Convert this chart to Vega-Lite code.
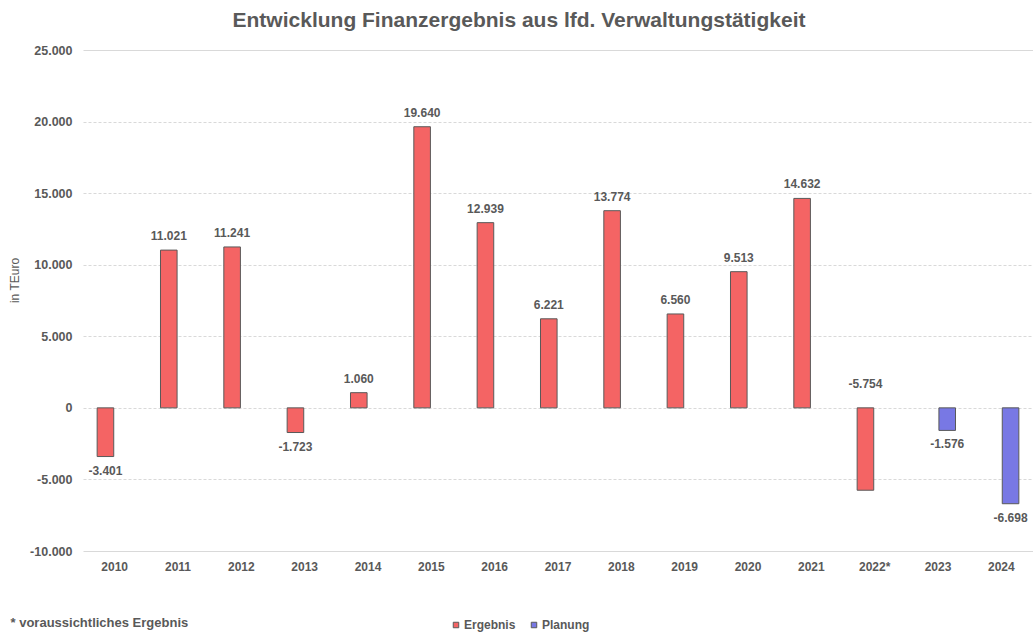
{
  "$schema": "https://vega.github.io/schema/vega-lite/v6.json",
  "width": 950,
  "height": 501,
  "autosize": {"type": "none"},
  "padding": {"left": 83, "top": 50, "right": 0, "bottom": 82},
  "title": {
    "text": "Entwicklung Finanzergebnis aus lfd. Verwaltungstätigkeit",
    "anchor": "middle",
    "dx": -39,
    "offset": 13,
    "fontSize": 21,
    "font": "Liberation Sans",
    "fontWeight": "bold",
    "color": "#595959"
  },
  "data": {
    "values": [
      {"jahr": "2010", "wert": -3401, "art": "Ergebnis"},
      {"jahr": "2011", "wert": 11021, "art": "Ergebnis"},
      {"jahr": "2012", "wert": 11241, "art": "Ergebnis"},
      {"jahr": "2013", "wert": -1723, "art": "Ergebnis"},
      {"jahr": "2014", "wert": 1060, "art": "Ergebnis"},
      {"jahr": "2015", "wert": 19640, "art": "Ergebnis"},
      {"jahr": "2016", "wert": 12939, "art": "Ergebnis"},
      {"jahr": "2017", "wert": 6221, "art": "Ergebnis"},
      {"jahr": "2018", "wert": 13774, "art": "Ergebnis"},
      {"jahr": "2019", "wert": 6560, "art": "Ergebnis"},
      {"jahr": "2020", "wert": 9513, "art": "Ergebnis"},
      {"jahr": "2021", "wert": 14632, "art": "Ergebnis"},
      {"jahr": "2022*", "wert": -5754, "art": "Ergebnis"},
      {"jahr": "2023", "wert": -1576, "art": "Planung"},
      {"jahr": "2024", "wert": -6698, "art": "Planung"}
    ]
  },
  "encoding": {
    "x": {
      "field": "jahr",
      "type": "nominal",
      "sort": null,
      "scale": {"paddingInner": 0.447, "paddingOuter": 0.2235},
      "axis": {
        "labelAngle": 0,
        "domain": false,
        "ticks": false,
        "grid": false,
        "labelPadding": 10,
        "labelFont": "Liberation Sans",
        "labelFontSize": 12,
        "labelFontWeight": "bold",
        "labelColor": "#595959",
        "title": "* voraussichtliches  Ergebnis",
        "titleFont": "Liberation Sans",
        "titleFontSize": 13,
        "titleFontWeight": "bold",
        "titleColor": "#595959",
        "titleX": -73,
        "titleY": 71,
        "titleAlign": "left",
        "titleBaseline": "middle"
      }
    },
    "xOffset": {
      "field": "art",
      "type": "nominal",
      "scale": {"domain": ["Ergebnis", "Planung"], "paddingInner": 0.1, "paddingOuter": 0}
    },
    "y": {
      "field": "wert",
      "type": "quantitative",
      "scale": {"domain": [-10000, 25000], "nice": false},
      "axis": {
        "values": [-10000, -5000, 0, 5000, 10000, 15000, 20000, 25000],
        "format": ",d",
        "domain": false,
        "ticks": false,
        "labelPadding": 11,
        "labelFont": "Liberation Sans",
        "labelFontSize": 12.5,
        "labelFontWeight": "bold",
        "labelColor": "#595959",
        "gridColor": "#D9D9D9",
        "gridDash": {"condition": {"test": "datum.value == 25000 || datum.value == -10000", "value": []}, "value": [3, 2]},
        "title": "in TEuro",
        "titleFont": "Liberation Sans",
        "titleFontSize": 12,
        "titleFontWeight": "normal",
        "titleColor": "#595959",
        "titleX": -69,
        "titleY": 230,
        "titleAlign": "center",
        "titleBaseline": "middle",
        "titleAngle": -90
      }
    }
  },
  "layer": [
    {
      "mark": {"type": "bar", "stroke": "#595959", "strokeWidth": 1},
      "encoding": {
        "color": {
          "field": "art",
          "type": "nominal",
          "scale": {"domain": ["Ergebnis", "Planung"], "range": ["#F46464", "#7878E4"]},
          "legend": {
            "title": null,
            "orient": "none",
            "legendX": 367,
            "legendY": 569,
            "direction": "horizontal",
            "symbolType": "square",
            "symbolSize": 30,
            "symbolStrokeColor": "#595959",
            "symbolStrokeWidth": 1,
            "labelFont": "Liberation Sans",
            "labelFontSize": 12,
            "labelFontWeight": "bold",
            "labelColor": "#595959",
            "labelOffset": 2,
            "columnPadding": 12
          }
        }
      }
    },
    {
      "transform": [{"filter": "datum.wert > 0"}],
      "mark": {"type": "text", "dy": -14, "baseline": "middle", "font": "Liberation Sans", "fontSize": 12, "fontWeight": "bold", "color": "#595959"},
      "encoding": {"text": {"field": "wert", "type": "quantitative", "format": ",d"}}
    },
    {
      "transform": [{"filter": "datum.wert < 0 && datum.jahr != '2022*'"}],
      "mark": {"type": "text", "dy": 14, "baseline": "middle", "font": "Liberation Sans", "fontSize": 12, "fontWeight": "bold", "color": "#595959"},
      "encoding": {"text": {"field": "wert", "type": "quantitative", "format": ",d"}}
    },
    {
      "transform": [{"filter": "datum.jahr == '2022*'"}],
      "mark": {"type": "text", "dy": -24, "baseline": "middle", "font": "Liberation Sans", "fontSize": 12, "fontWeight": "bold", "color": "#595959"},
      "encoding": {
        "y": {"datum": 0},
        "text": {"field": "wert", "type": "quantitative", "format": ",d"}
      }
    }
  ],
  "config": {
    "view": {"stroke": null},
    "font": "Liberation Sans",
    "locale": {
      "number": {"decimal": ",", "thousands": ".", "grouping": [3], "currency": ["", " €"], "minus": "-"}
    }
  }
}
